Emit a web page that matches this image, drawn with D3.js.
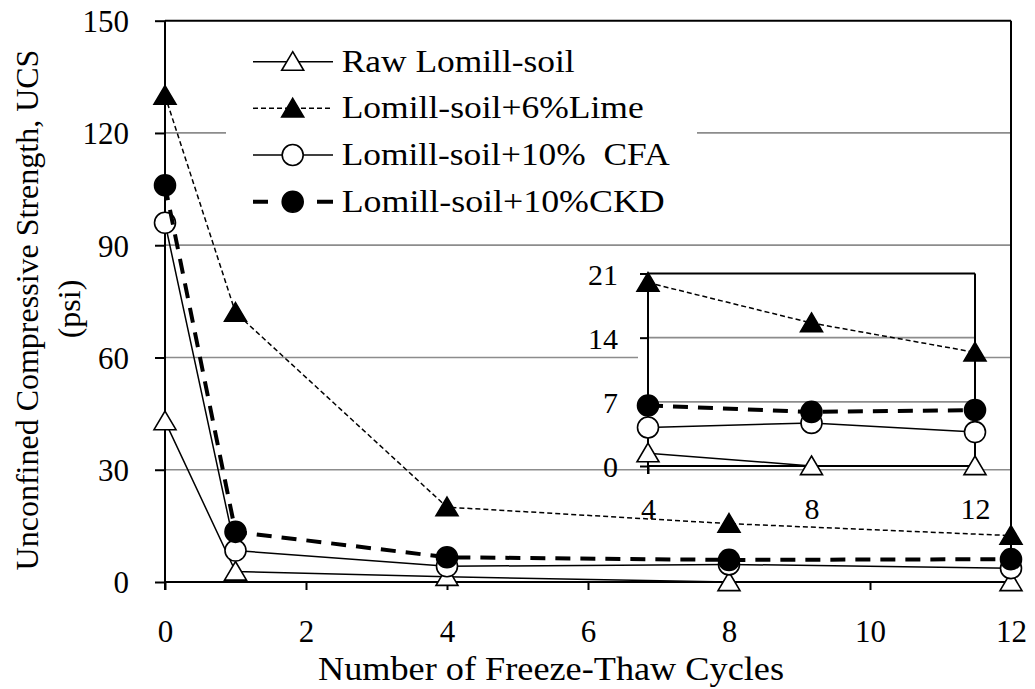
<!DOCTYPE html>
<html>
<head>
<meta charset="utf-8">
<script src="https://cdn.jsdelivr.net/npm/d3@7"></script>
<style>
  html, body { margin: 0; padding: 0; background: #fff; }
  svg { display: block; }
  text { font-family: "Liberation Serif", "Times New Roman", serif; fill: #000; }
</style>
</head>
<body>
<svg id="chart" width="1035" height="689"></svg>
<script>
// ---- data ----
const cycles = [0, 1, 4, 8, 12];
const rawSoil = [43, 2.8, 1.4, 0, 0];
const lime6 = [130, 72, 20, 15.6, 12.4];
const cfa10 = [96, 8.4, 4.2, 4.7, 3.7];
const ckd10 = [106, 13.4, 6.6, 5.9, 6.1];
const seriesNames = ["Raw Lomill-soil", "Lomill-soil+6%Lime", "Lomill-soil+10%  CFA", "Lomill-soil+10%CKD"];
const xTickValues = [0, 2, 4, 6, 8, 10, 12];
const yTickValues = [0, 30, 60, 90, 120, 150];
const insetXTicks = [4, 8, 12];
const insetYTicks = [0, 7, 14, 21];
const xTitle = "Number of Freeze-Thaw Cycles";
const yTitle1 = "Unconfined Compressive Strength, UCS";
const yTitle2 = "(psi)";

// ---- styles ----
const styles = [
  { marker: "triangle", fill: "#fff", dash: null, width: 1.5 },
  { marker: "triangle", fill: "#000", dash: "5,3", width: 1.5 },
  { marker: "circle", fill: "#fff", dash: null, width: 1.5 },
  { marker: "circle", fill: "#000", dash: "15,10", width: 4 }
];
const allSeries = [rawSoil, lime6, cfa10, ckd10].map((vals, i) => ({
  name: seriesNames[i],
  style: styles[i],
  pts: cycles.map((c, j) => ({ x: c, y: vals[j] }))
}));

const svg = d3.select("#chart");
const FONT = 31;

// ---- main scales ----
const x = d3.scaleLinear().domain([0, 12]).range([165, 1011]);
const y = d3.scaleLinear().domain([0, 150]).range([582, 20.7]);

const grid = "#8c8c8c";

// gridlines
svg.append("g").selectAll("line")
  .data(yTickValues.filter(v => v > 0 && v < 150))
  .join("line")
  .attr("x1", x(0)).attr("x2", x(12))
  .attr("y1", d => y(d)).attr("y2", d => y(d))
  .attr("stroke", grid).attr("stroke-width", 1.7);

// plot border top/right
svg.append("line").attr("x1", x(0)).attr("x2", x(12)).attr("y1", y(150)).attr("y2", y(150))
  .attr("stroke", "#000").attr("stroke-width", 2);
svg.append("line").attr("x1", x(12)).attr("x2", x(12)).attr("y1", y(150)).attr("y2", y(0))
  .attr("stroke", "#000").attr("stroke-width", 2);

// axes
const yAxis = d3.axisLeft(y).tickValues(yTickValues).tickSize(10).tickPadding(37 - 10 - 1);
const gy = svg.append("g").attr("transform", `translate(${x(0)},0)`).call(yAxis);
const xAxis = d3.axisBottom(x).tickValues(xTickValues).tickSize(8).tickPadding(30);
const gx = svg.append("g").attr("transform", `translate(0,${y(0)})`).call(xAxis);
[gx, gy].forEach(g => {
  g.select(".domain").attr("stroke", "#000").attr("stroke-width", 2);
  g.selectAll(".tick line").attr("stroke", "#000").attr("stroke-width", 2);
  g.selectAll(".tick text").attr("font-size", FONT)
    .style("font-family", '"Liberation Serif", serif').attr("fill", "#000");
});
gx.select(".domain").attr("d", `M${x(0)},0H${x(12)}`);
gy.select(".domain").attr("d", `M0,${y(0) + 8}V${y(150)}`);
gx.selectAll(".tick text").attr("dy", null).attr("y", 60);
gy.selectAll(".tick text").attr("dy", "0.35em");

// ---- marker helpers ----
function trianglePath(s) {
  return `M0,${-s * 0.5}L${s * 0.55},${s * 0.43}L${-s * 0.55},${s * 0.43}Z`;
}
function drawSeries(g, series, xs, ys) {
  const st = series.style;
  const line = d3.line().x(d => xs(d.x)).y(d => ys(d.y));
  g.append("path").datum(series.pts)
    .attr("d", line).attr("fill", "none")
    .attr("stroke", "#000").attr("stroke-width", st.width)
    .attr("stroke-dasharray", st.dash);
  drawMarkers(g, series.pts.map(p => [xs(p.x), ys(p.y)]), st);
}
function drawMarkers(g, coords, st) {
  if (st.marker === "triangle") {
    g.append("g").selectAll("path").data(coords).join("path")
      .attr("transform", d => `translate(${d[0]},${d[1]})`)
      .attr("d", trianglePath(20))
      .attr("fill", st.fill).attr("stroke", "#000").attr("stroke-width", 1.6)
      .attr("stroke-linejoin", "miter");
  } else {
    g.append("g").selectAll("circle").data(coords).join("circle")
      .attr("cx", d => d[0]).attr("cy", d => d[1]).attr("r", 10.5)
      .attr("fill", st.fill).attr("stroke", "#000").attr("stroke-width", 1.6);
  }
}

const plotG = svg.append("g");
allSeries.forEach(s => drawSeries(plotG, s, x, y));

// ---- legend ----
const legend = svg.append("g");
legend.append("rect").attr("x", 226).attr("y", 38).attr("width", 471).attr("height", 184).attr("fill", "#fff");
const legendRows = [61.7, 108.3, 155, 201.7];
const legendWidths = [233, 302, 328, 323];
allSeries.forEach((s, i) => {
  const yy = legendRows[i];
  const st = s.style;
  let dash = st.dash;
  if (i === 3) dash = "15,49,16";
  legend.append("line").attr("x1", 253).attr("x2", 333).attr("y1", yy).attr("y2", yy)
    .attr("stroke", "#000").attr("stroke-width", st.width).attr("stroke-dasharray", dash);
  drawMarkers(legend, [[292.7, yy]], st);
  legend.append("text").attr("x", 341.7).attr("y", yy + 10)
    .attr("font-size", FONT + 1)
    .attr("textLength", legendWidths[i]).attr("lengthAdjust", "spacingAndGlyphs")
    .style("white-space", "pre")
    .text(s.name);
});

// ---- axis titles ----
svg.append("text").attr("x", 551).attr("y", 680).attr("text-anchor", "middle")
  .attr("font-size", FONT + 3)
  .attr("textLength", 466).attr("lengthAdjust", "spacingAndGlyphs")
  .text(xTitle);
svg.append("text").attr("transform", "translate(38,310) rotate(-90)")
  .attr("text-anchor", "middle").attr("font-size", FONT + 1).text(yTitle1);
svg.append("text").attr("transform", "translate(80,309) rotate(-90)")
  .attr("text-anchor", "middle").attr("font-size", FONT + 1).text(yTitle2);

// ---- inset ----
const xi = d3.scaleLinear().domain([4, 12]).range([648, 975]);
const yi = d3.scaleLinear().domain([0, 21]).range([466, 273.5]);
const inset = svg.append("g");
inset.append("rect").attr("x", 638).attr("y", yi(21)).attr("width", xi(12) - 638).attr("height", yi(0) - yi(21))
  .attr("fill", "#fff");
inset.append("g").selectAll("line").data(insetYTicks.filter(v => v > 0 && v < 21)).join("line")
  .attr("x1", xi(4)).attr("x2", xi(12)).attr("y1", d => yi(d)).attr("y2", d => yi(d))
  .attr("stroke", grid).attr("stroke-width", 1.7);
inset.append("line").attr("x1", xi(4)).attr("x2", xi(12)).attr("y1", yi(21)).attr("y2", yi(21))
  .attr("stroke", "#000").attr("stroke-width", 2);
inset.append("line").attr("x1", xi(12)).attr("x2", xi(12)).attr("y1", yi(21)).attr("y2", yi(0))
  .attr("stroke", "#000").attr("stroke-width", 2);
const iyAxis = d3.axisLeft(yi).tickValues(insetYTicks).tickSize(8).tickPadding(22);
const iy = inset.append("g").attr("transform", `translate(${xi(4)},0)`).call(iyAxis);
const ixAxis = d3.axisBottom(xi).tickValues(insetXTicks).tickSize(8).tickPadding(20);
const ix = inset.append("g").attr("transform", `translate(0,${yi(0)})`).call(ixAxis);
[ix, iy].forEach(g => {
  g.select(".domain").attr("stroke", "#000").attr("stroke-width", 2);
  g.selectAll(".tick line").attr("stroke", "#000").attr("stroke-width", 2);
  g.selectAll(".tick text").attr("font-size", FONT - 1)
    .style("font-family", '"Liberation Serif", serif').attr("fill", "#000");
});
ix.select(".domain").attr("d", `M${xi(4)},0H${xi(12)}`);
iy.select(".domain").attr("d", `M0,${yi(0) + 8}V${yi(21)}`);
ix.selectAll(".tick text").attr("dy", null).attr("y", 53);
iy.selectAll(".tick text").attr("dy", "0.35em");

allSeries.forEach(s => {
  const sub = { name: s.name, style: s.style, pts: s.pts.filter(p => p.x >= 4) };
  drawSeries(inset, sub, xi, yi);
});
</script>
</body>
</html>
